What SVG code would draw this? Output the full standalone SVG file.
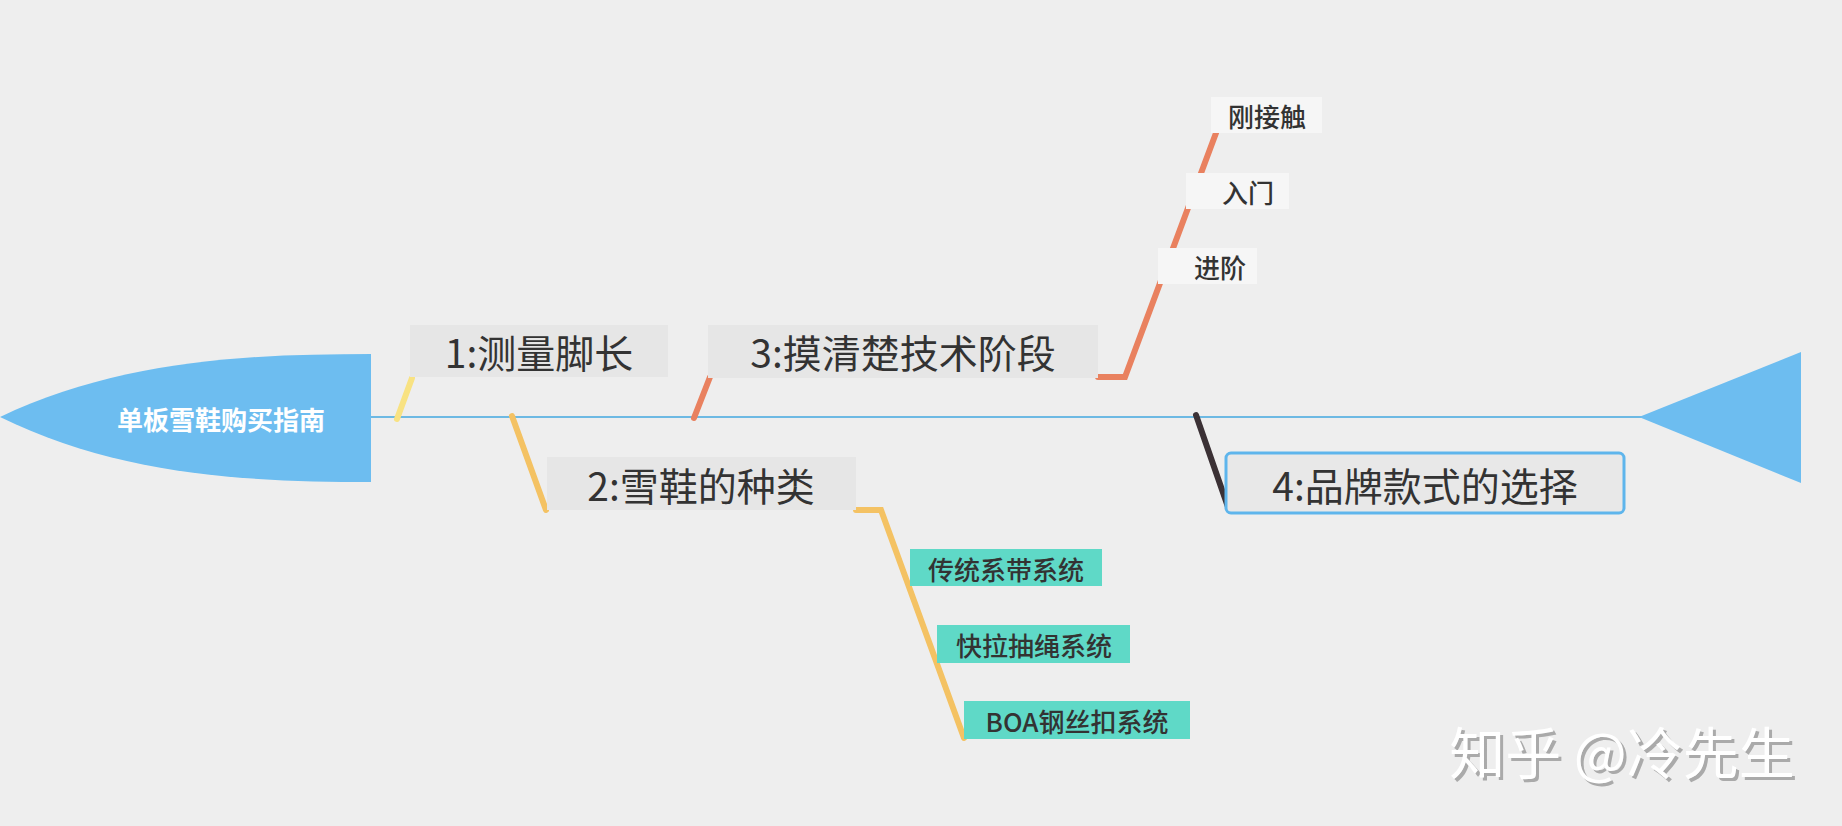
<svg xmlns="http://www.w3.org/2000/svg" width="1842" height="826" viewBox="0 0 1842 826">
<style>
.t{font-family:"Noto Sans CJK SC","Noto Sans",sans-serif;fill:#333;text-anchor:middle;dominant-baseline:central}
.big{font-size:39px;font-weight:400}
.sm{font-size:26px;font-weight:500}
.box{fill:#e6e6e6}
.wbox{fill:#f6f6f6}
.teal{fill:#5fd9c7}
.ln{fill:none;stroke-linecap:round;stroke-linejoin:miter}
</style>
<rect width="1842" height="826" fill="#eeeeee"/>
<g id="connectors">
<line x1="371" y1="417" x2="1642" y2="417" stroke="#6db9e3" stroke-width="2"/>
<line class="ln" x1="397" y1="419" x2="412" y2="378" stroke="#f8e282" stroke-width="6"/>
<line class="ln" x1="512" y1="416" x2="546" y2="510" stroke="#f4c263" stroke-width="6"/>
<polyline class="ln" points="856,510 881,510 964,738" stroke="#f4c263" stroke-width="6"/>
<line class="ln" x1="694" y1="418" x2="710" y2="377" stroke="#e9815f" stroke-width="6"/>
<polyline class="ln" points="1098,377 1125,377 1216,133" stroke="#e9815f" stroke-width="6"/>
<line class="ln" x1="1196" y1="415" x2="1228" y2="507" stroke="#3b3135" stroke-width="6"/>
</g>
<g id="head">
<path d="M0,417 C120,360 250,354 371,354 L371,482 C250,482 120,476 0,417 Z" fill="#6dbdf0"/>
<text class="t" x="221" y="418" style="font-size:26px;font-weight:700;fill:#ffffff">单板雪鞋购买指南</text>
</g>
<g id="tail">
<polygon points="1639,417 1801,352 1801,483" fill="#6dbdf0"/>
</g>
<g id="n1">
<rect class="box" x="410" y="325" width="258" height="52"/>
<text class="t big" x="539" y="351">1:测量脚长</text>
</g>
<g id="n2">
<rect class="box" x="547" y="457" width="309" height="53"/>
<text class="t big" x="701" y="484">2:雪鞋的种类</text>
</g>
<g id="n3">
<rect class="box" x="708" y="325" width="390" height="53"/>
<text class="t big" x="903" y="351">3:摸清楚技术阶段</text>
</g>
<g id="n4">
<rect x="1226" y="453" width="398" height="60" rx="5" fill="#e8e8e8" stroke="#5eb5ec" stroke-width="3"/>
<text class="t big" x="1425" y="484">4:品牌款式的选择</text>
</g>
<g id="n3a">
<rect class="wbox" x="1211" y="97" width="111" height="36"/>
<text class="t sm" x="1267" y="115">刚接触</text>
</g>
<g id="n3b">
<rect class="wbox" x="1186" y="173" width="103" height="36"/>
<text class="t sm" x="1248" y="191">入门</text>
</g>
<g id="n3c">
<rect class="wbox" x="1158" y="248" width="99" height="36"/>
<text class="t sm" x="1220" y="266">进阶</text>
</g>
<g id="n2a">
<rect class="teal" x="910" y="549" width="192" height="37"/>
<text class="t sm" x="1006" y="568">传统系带系统</text>
</g>
<g id="n2b">
<rect class="teal" x="937" y="625" width="193" height="38"/>
<text class="t sm" x="1034" y="644">快拉抽绳系统</text>
</g>
<g id="n2c">
<rect class="teal" x="964" y="701" width="226" height="38"/>
<text class="t sm" x="1077" y="720">BOA钢丝扣系统</text>
</g>
<g id="watermark">
<text class="t" x="1625" y="752" style="font-size:56px;fill:#aaaaaa">知乎 @冷先生</text>
<text class="t" x="1622" y="749" style="font-size:56px;fill:#ffffff">知乎 @冷先生</text>
</g>
</svg>
